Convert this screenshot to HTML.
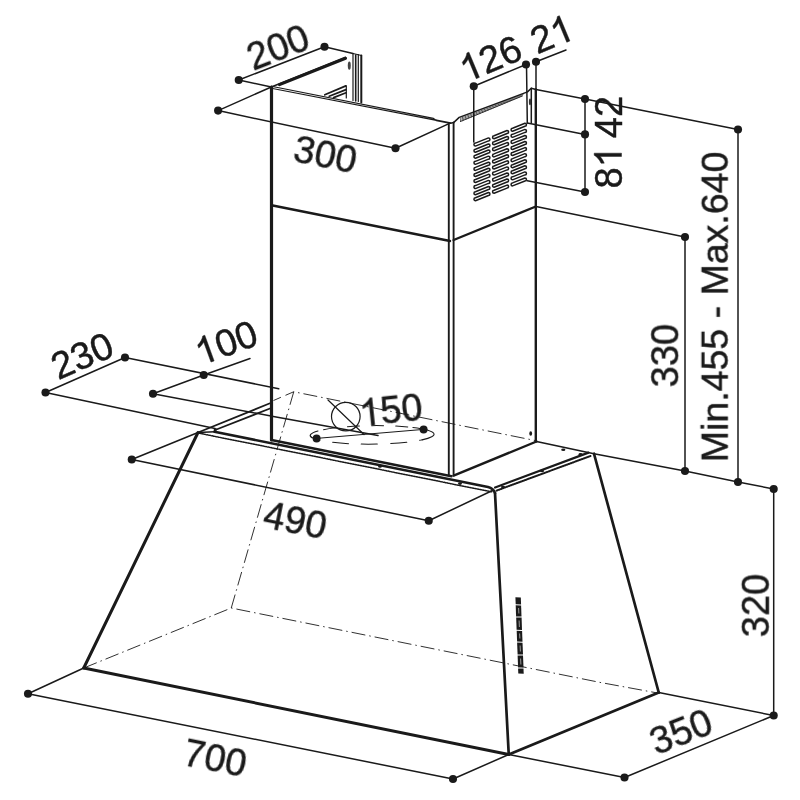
<!DOCTYPE html>
<html><head><meta charset="utf-8"><style>
html,body{margin:0;padding:0;background:#fff;}
body{width:800px;height:800px;overflow:hidden;}
svg{display:block;}
text{font-family:"Liberation Sans",sans-serif;font-size:38px;fill:#1a1a1a;stroke:#1a1a1a;stroke-width:0.45;}
.k{stroke:#1a1a1a;fill:none;stroke-linecap:round;stroke-linejoin:round;}
.t{stroke-width:1.5;}
.m{stroke-width:1.7;}
.b{stroke-width:2.4;}
.h{stroke-width:3.2;}
.dd{stroke-width:0.9;stroke-dasharray:14 4 1.5 4;stroke-linecap:butt;}
.da{stroke-width:0.9;stroke-dasharray:9 5;stroke-linecap:butt;}
.dot{fill:#1a1a1a;stroke:none;}
</style></head>
<body>
<svg width="800" height="800" viewBox="0 0 800 800">
<rect width="800" height="800" fill="#fff"/>

<!-- ===== hidden (dash-dot) lines ===== -->
<g class="k dd">
<path d="M83.75 668 L231.25 608 L600 682.4 L657.5 693"/>
<path d="M231.25 608 L293.75 391.75 L535 440.5"/>
</g>
<path class="k da" d="M293.75 391.75 L273.5 400.5"/>

<!-- ===== dimension lines (thin) ===== -->
<g class="k t">
<!-- 200 -->
<path d="M238.75 80 L324.5 46.75 L353 53.5"/>
<path d="M238.75 80 L271.3 87"/>
<!-- 300 -->
<path d="M218.1 110.6 L395.5 148.25"/>
<path d="M218.1 110.6 L271.3 87"/>
<path d="M395.5 148.25 L449 123.6"/>
<!-- 126 / 21 -->
<path d="M473.75 86.2 L526 64.5"/>
<path d="M536 61.75 L566 50"/>
<path d="M473.75 86.2 L473.75 142"/>
<path d="M526.5 64.5 L527.3 123"/>
<path d="M536 61.75 L536 90"/>
<!-- 42 / 81 -->
<path d="M585 99 L585 192"/>
<path d="M536 89.5 L585 99 L738 129.5"/>
<path d="M527.3 123 L585 134.4"/>
<path d="M527.3 180.8 L585 192"/>
<!-- 330 -->
<path d="M536 206.5 L685 237 L685 471"/>
<!-- min-max -->
<path d="M738 129.5 L738 482"/>
<!-- right line through dots -->
<path d="M594 453.75 L685 471 L738 482 L773.7 489"/>
<!-- 320 -->
<path d="M773.7 489 L773.7 715.5"/>
<path d="M658.75 692.5 L773.7 715.5"/>
<!-- 350 -->
<path d="M773.7 715.5 L624.5 777.5 L508.75 754.5"/>
<!-- 700 -->
<path d="M28 693.75 L453 779 L508.75 754.5"/>
<path d="M28 693.75 L83.75 668"/>
<!-- 490 -->
<path d="M131.75 459.5 L428.75 520.75 L493.5 490"/>
<path d="M131.75 459.5 L198 432.5"/>
<!-- 230 -->
<path d="M45.5 392.5 L125 357.5 L278.75 388.75"/>
<path d="M45.5 392.5 L215 428.5"/>
<!-- 100 -->
<path d="M153 393.75 L203.75 375 L250 358.5"/>
<path d="M153 393.75 L271 416"/>
<path d="M272 416.2 L378 435.5"/>
</g>

<!-- ===== duct circle ===== -->
<g class="k" stroke-width="1">
<path d="M316.6 438.4 L423.6 429.4"/>
</g>
<g transform="rotate(-0.6 372.4 434.9)">
<path class="k" stroke-width="1" stroke-dasharray="16 13" stroke-dashoffset="-24" stroke-linecap="butt" d="M310.4 434.9 A62 9.3 0 0 0 422 440.4"/>
<path class="k" stroke-width="1" stroke-dasharray="12 12" stroke-dashoffset="-30" stroke-linecap="butt" d="M318 430.4 A62 9.3 0 0 1 420 429"/>
<path class="k" stroke-width="1.1" d="M318 430.4 A62 9.3 0 0 0 312 437.2"/>
<path class="k" stroke-width="1.1" d="M413 427.9 A62 9.3 0 0 1 422 440.4"/>
</g>
<circle class="k" stroke-width="1.2" cx="345.8" cy="416.6" r="14.3"/>
<path class="k" stroke-width="1.2" d="M328 400 L364 434.5"/>

<!-- ===== chimney ===== -->
<!-- back panel -->
<g class="k" stroke-width="1.2">
<path d="M353 53.5 L353 100.5"/>
<path d="M358.3 54.5 L358.3 101.5"/>
<path stroke-width="2" d="M361.3 55.5 L361.3 102.5"/>
<path d="M353 53.5 L361.5 55.5"/>
<path stroke-width="1.7" d="M324.8 94.8 L345.8 85.9 M329.2 96.3 L346 89.6 M333.6 97.6 L346 92.8"/><path d="M346.3 85.8 L346.3 98"/>
</g>
<path class="k" stroke="#888" stroke-width="1.6" d="M355.7 55 L355.7 101"/>
<ellipse cx="349.3" cy="65.6" rx="1.5" ry="4.2" fill="#444" stroke="none"/>
<!-- top-left inner edge -->
<path class="k" stroke-width="3.1" d="M279.5 84.6 L345.5 58.4"/>
<path class="k t" d="M271.3 87 L345.5 57.3"/>
<!-- top front edge -->
<path class="k" stroke-width="1.15" d="M271.3 86.2 L433.5 118.4 L436.5 120.4 M271.3 88.3 L436.5 120.4"/><path class="k m" d="M436.5 120.4 L450.5 123.2"/>
<!-- top right edge with hatch -->
<path class="k t" d="M450.5 123.2 L453.6 122.6 L459.2 117.4 L527.5 91.9 L531.3 88.2 L536 89.5"/>
<path class="k" stroke="#444" stroke-width="0.75" stroke-linecap="butt" d="M460.5 121.5 L460.9 117.7 M462.1 120.9 L462.5 117.1 M463.6 120.2 L464.1 116.5 M465.1 119.6 L465.7 115.9 M466.7 119.0 L467.3 115.3 M468.2 118.3 L468.9 114.7 M469.8 117.7 L470.4 114.1 M471.4 117.0 L472.0 113.5 M472.9 116.4 L473.6 112.9 M474.4 115.8 L475.2 112.3 M476.0 115.1 L476.8 111.7 M477.6 114.5 L478.4 111.1 M479.1 113.8 L480.0 110.5 M480.6 113.2 L481.6 109.9 M482.2 112.6 L483.2 109.3 M483.8 111.9 L484.8 108.7 M485.3 111.3 L486.4 108.1 M486.9 110.7 L488.0 107.5 M488.4 110.0 L489.6 106.9 M489.9 109.4 L491.1 106.3 M491.5 108.8 L492.7 105.7 M493.1 108.1 L494.3 105.1 M494.6 107.5 L495.9 104.5 M496.1 106.8 L497.5 103.9 M497.7 106.2 L499.1 103.3 M499.2 105.6 L500.7 102.7 M500.8 104.9 L502.3 102.1 M502.4 104.3 L503.9 101.5 M503.9 103.7 L505.5 100.9 M505.4 103.0 L507.1 100.3 M507.0 102.4 L508.7 99.7 M508.6 101.7 L510.3 99.1 M510.1 101.1 L511.9 98.5 M511.6 100.5 L513.4 97.9 M513.2 99.8 L515.0 97.3 M514.8 99.2 L516.6 96.7 M516.3 98.5 L518.2 96.1 M517.9 97.9 L519.8 95.5 M519.4 97.3 L521.4 94.9 M521.0 96.6 L523.0 94.3"/>
<path class="k" stroke-width="0.8" d="M460.5 121.5 L522.5 96"/>
<path class="k t" d="M531.3 88.2 L531.3 123"/>
<ellipse cx="530" cy="101.9" rx="1.1" ry="3.3" fill="#333" stroke="none"/>
<!-- edges -->
<path class="k h" d="M271.5 87 L271.5 440"/>
<path class="k" stroke-width="1.9" d="M448.8 123.4 L448.8 475.2"/>
<path class="k" stroke-width="1.9" d="M453.6 122.5 L453.6 475.6"/>
<path class="k b" d="M535.8 89.5 L535.8 441.5"/>
<!-- joints -->
<path class="k b" d="M271.5 205.3 L450 241"/>
<path class="k b" d="M453.6 240 L535.8 206.5"/>
<!-- bottom -->
<path class="k b" stroke-width="2.6" d="M271.5 440 L451.5 476.3"/>
<path class="k b" d="M453.6 475.6 L536.5 441.5"/>

<!-- vent slots -->
<g id="vents" class="k" stroke-width="1.50" fill="#fff"><path d="M475.45 143.12 L488.45 137.92 A1.50 1.50 0 0 1 488.45 140.92 L475.45 146.12 A1.50 1.50 0 0 1 475.45 143.12 Z"/><path d="M475.45 149.19 L488.45 143.99 A1.50 1.50 0 0 1 488.45 146.99 L475.45 152.19 A1.50 1.50 0 0 1 475.45 149.19 Z"/><path d="M475.45 155.26 L488.45 150.06 A1.50 1.50 0 0 1 488.45 153.06 L475.45 158.26 A1.50 1.50 0 0 1 475.45 155.26 Z"/><path d="M475.45 161.33 L488.45 156.13 A1.50 1.50 0 0 1 488.45 159.13 L475.45 164.33 A1.50 1.50 0 0 1 475.45 161.33 Z"/><path d="M475.45 167.40 L488.45 162.20 A1.50 1.50 0 0 1 488.45 165.20 L475.45 170.40 A1.50 1.50 0 0 1 475.45 167.40 Z"/><path d="M475.45 173.47 L488.45 168.27 A1.50 1.50 0 0 1 488.45 171.27 L475.45 176.47 A1.50 1.50 0 0 1 475.45 173.47 Z"/><path d="M475.45 179.54 L488.45 174.34 A1.50 1.50 0 0 1 488.45 177.34 L475.45 182.54 A1.50 1.50 0 0 1 475.45 179.54 Z"/><path d="M475.45 185.61 L488.45 180.41 A1.50 1.50 0 0 1 488.45 183.41 L475.45 188.61 A1.50 1.50 0 0 1 475.45 185.61 Z"/><path d="M475.45 191.68 L488.45 186.48 A1.50 1.50 0 0 1 488.45 189.48 L475.45 194.68 A1.50 1.50 0 0 1 475.45 191.68 Z"/><path d="M475.45 197.75 L488.45 192.55 A1.50 1.50 0 0 1 488.45 195.55 L475.45 200.75 A1.50 1.50 0 0 1 475.45 197.75 Z"/><path d="M494.05 135.68 L507.05 130.48 A1.50 1.50 0 0 1 507.05 133.48 L494.05 138.68 A1.50 1.50 0 0 1 494.05 135.68 Z"/><path d="M494.05 141.75 L507.05 136.55 A1.50 1.50 0 0 1 507.05 139.55 L494.05 144.75 A1.50 1.50 0 0 1 494.05 141.75 Z"/><path d="M494.05 147.82 L507.05 142.62 A1.50 1.50 0 0 1 507.05 145.62 L494.05 150.82 A1.50 1.50 0 0 1 494.05 147.82 Z"/><path d="M494.05 153.89 L507.05 148.69 A1.50 1.50 0 0 1 507.05 151.69 L494.05 156.89 A1.50 1.50 0 0 1 494.05 153.89 Z"/><path d="M494.05 159.96 L507.05 154.76 A1.50 1.50 0 0 1 507.05 157.76 L494.05 162.96 A1.50 1.50 0 0 1 494.05 159.96 Z"/><path d="M494.05 166.03 L507.05 160.83 A1.50 1.50 0 0 1 507.05 163.83 L494.05 169.03 A1.50 1.50 0 0 1 494.05 166.03 Z"/><path d="M494.05 172.10 L507.05 166.90 A1.50 1.50 0 0 1 507.05 169.90 L494.05 175.10 A1.50 1.50 0 0 1 494.05 172.10 Z"/><path d="M494.05 178.17 L507.05 172.97 A1.50 1.50 0 0 1 507.05 175.97 L494.05 181.17 A1.50 1.50 0 0 1 494.05 178.17 Z"/><path d="M494.05 184.24 L507.05 179.04 A1.50 1.50 0 0 1 507.05 182.04 L494.05 187.24 A1.50 1.50 0 0 1 494.05 184.24 Z"/><path d="M494.05 190.31 L507.05 185.11 A1.50 1.50 0 0 1 507.05 188.11 L494.05 193.31 A1.50 1.50 0 0 1 494.05 190.31 Z"/><path d="M512.55 128.28 L524.95 123.32 A1.50 1.50 0 0 1 524.95 126.32 L512.55 131.28 A1.50 1.50 0 0 1 512.55 128.28 Z"/><path d="M512.55 134.35 L524.95 129.39 A1.50 1.50 0 0 1 524.95 132.39 L512.55 137.35 A1.50 1.50 0 0 1 512.55 134.35 Z"/><path d="M512.55 140.42 L524.95 135.46 A1.50 1.50 0 0 1 524.95 138.46 L512.55 143.42 A1.50 1.50 0 0 1 512.55 140.42 Z"/><path d="M512.55 146.49 L524.95 141.53 A1.50 1.50 0 0 1 524.95 144.53 L512.55 149.49 A1.50 1.50 0 0 1 512.55 146.49 Z"/><path d="M512.55 152.56 L524.95 147.60 A1.50 1.50 0 0 1 524.95 150.60 L512.55 155.56 A1.50 1.50 0 0 1 512.55 152.56 Z"/><path d="M512.55 158.63 L524.95 153.67 A1.50 1.50 0 0 1 524.95 156.67 L512.55 161.63 A1.50 1.50 0 0 1 512.55 158.63 Z"/><path d="M512.55 164.70 L524.95 159.74 A1.50 1.50 0 0 1 524.95 162.74 L512.55 167.70 A1.50 1.50 0 0 1 512.55 164.70 Z"/><path d="M512.55 170.77 L524.95 165.81 A1.50 1.50 0 0 1 524.95 168.81 L512.55 173.77 A1.50 1.50 0 0 1 512.55 170.77 Z"/><path d="M512.55 176.84 L524.95 171.88 A1.50 1.50 0 0 1 524.95 174.88 L512.55 179.84 A1.50 1.50 0 0 1 512.55 176.84 Z"/><path d="M512.55 182.91 L524.95 177.95 A1.50 1.50 0 0 1 524.95 180.95 L512.55 185.91 A1.50 1.50 0 0 1 512.55 182.91 Z"/></g>

<!-- ===== hood ===== -->
<!-- top left edge -->
<path class="k m" d="M198 432.5 L270 403.3"/>
<path class="k m" d="M214.5 430.3 L270 408.5"/>
<!-- top front edge -->
<path class="k" stroke-width="2.6" d="M214.5 431.8 L488 487 Q493.5 488.5 495 493"/>
<path class="k" stroke="#444" stroke-width="1.5" stroke-dasharray="1.5 1.1" stroke-linecap="butt" d="M199.5 433.3 L491.9 491.9"/>
<path class="k t" d="M198 432.5 L214.5 431.8"/>
<!-- top back edge -->
<path class="k m" d="M536.5 441.5 L594 453.75"/>
<!-- top right edge -->
<path class="k" stroke-width="2.2" d="M495.1 487.5 L588.5 452.6"/>
<path class="k" stroke="#444" stroke-width="2" stroke-dasharray="1.1 1.1" stroke-linecap="butt" d="M496.6 490.6 L591 455.8"/>
<!-- outer edges -->
<path class="k" stroke-width="3" d="M198 432.5 L83.75 668"/>
<path class="k" stroke-width="2.9" d="M83.75 668 L508.75 754.5"/>
<path class="k" stroke-width="2.7" d="M495 493 L508.75 754.5"/>
<path class="k" stroke-width="2.8" d="M508.75 754.5 L658.75 692.5"/>
<path class="k" stroke-width="2.7" d="M594 453.75 L658.75 692.5"/>
<!-- holes -->
<g class="dot">
<ellipse cx="530.7" cy="433.5" rx="1.4" ry="2.2"/>
<ellipse cx="563.3" cy="449.7" rx="2.1" ry="1.3"/>
<ellipse cx="580.6" cy="454.4" rx="2.1" ry="1.3"/>
<ellipse cx="542" cy="470.9" rx="2" ry="1.3"/>
<ellipse cx="503" cy="487" rx="2" ry="1.3"/>
<ellipse cx="460" cy="483.6" rx="2" ry="1.3"/>
<ellipse cx="380" cy="466.5" rx="1.9" ry="1.2"/>
<ellipse cx="215.5" cy="429.5" rx="1.6" ry="1.2"/>
</g>
<!-- buttons -->
<g id="btn" fill="#1a1a1a" stroke="none"><path d="M515.4 597.2 L520.8 597.4 L521.1 604.4 L515.7 604.2 Z"/><path d="M515.7 605.2 L521.1 605.4 L521.5 616.6 L516.1 616.4 Z"/><path d="M516.2 617.4 L521.6 617.6 L522.0 630.0 L516.6 629.8 Z"/><path d="M516.7 630.8 L522.1 631.0 L522.5 641.8 L517.1 641.6 Z"/><path d="M517.1 642.6 L522.5 642.8 L523.0 654.6 L517.6 654.4 Z"/><path d="M517.6 655.4 L523.0 655.6 L523.5 667.6 L518.1 667.4 Z"/><path d="M518.1 668.4 L523.5 668.6 L523.7 673.8 L518.3 673.6 Z"/></g>
<g stroke="#999" stroke-width="1" fill="none">
<path d="M518.6 608 L518.9 613.5 M519.1 620.5 L519.4 627 M519.6 633.5 L519.9 638.5 M520.1 645.5 L520.4 651.5 M520.6 658.5 L520.9 664.5"/>
</g>

<!-- ===== dots ===== -->
<g class="dot">
<circle cx="238.75" cy="80" r="4.05"/><circle cx="324.5" cy="46.75" r="4.05"/>
<circle cx="218.1" cy="110.6" r="4.05"/><circle cx="395.5" cy="148.25" r="4.05"/>
<circle cx="473.75" cy="86.2" r="4.05"/><circle cx="526" cy="64.5" r="4.05"/><circle cx="536" cy="61.75" r="4.05"/>
<circle cx="585" cy="99" r="4.05"/><circle cx="585" cy="134.4" r="4.05"/><circle cx="585" cy="192" r="4.05"/>
<circle cx="738" cy="129.5" r="4.05"/><circle cx="685" cy="237" r="4.05"/>
<circle cx="685" cy="471" r="4.05"/><circle cx="738" cy="482" r="4.05"/><circle cx="773.7" cy="489" r="4.05"/>
<circle cx="773.7" cy="715.5" r="4.05"/><circle cx="624.5" cy="777.5" r="4.05"/><circle cx="453" cy="779" r="4.05"/>
<circle cx="28" cy="693.75" r="4.05"/><circle cx="131.75" cy="459.5" r="4.05"/><circle cx="428.75" cy="520.75" r="4.05"/>
<circle cx="45.5" cy="392.5" r="4.05"/><circle cx="125" cy="357.5" r="4.05"/>
<circle cx="153" cy="393.75" r="4.05"/><circle cx="203.75" cy="375" r="4.05"/>
<circle cx="316.6" cy="438.4" r="4"/><circle cx="423.6" cy="429.4" r="4"/>
</g>

<!-- ===== text ===== -->
<g opacity="0.999">
<g id="t200" transform="translate(282.7 59.4) rotate(-21.2)"><text x="-31.70">200</text></g>
<g id="t300" transform="translate(322.8 167.4) rotate(11.5)"><text x="-31.70">300</text></g>
<g id="t126" transform="translate(495.6 70.6) rotate(-22.6)"><path d="M763 0H583V1147Q518 1085 412.5 1023Q307 961 223 930V1104Q374 1175 487 1276Q600 1377 647 1472H763Z" transform="translate(-31.70 0) scale(0.018555 -0.018555)" fill="#1a1a1a" stroke="#1a1a1a" stroke-width="24"/><text x="-10.57">26</text></g>
<g id="t21" transform="translate(556.8 46.4) rotate(-22.6)"><text x="-21.13">2</text><path d="M763 0H583V1147Q518 1085 412.5 1023Q307 961 223 930V1104Q374 1175 487 1276Q600 1377 647 1472H763Z" transform="translate(0.00 0) scale(0.018555 -0.018555)" fill="#1a1a1a" stroke="#1a1a1a" stroke-width="24"/></g>
<g id="t42" transform="translate(621.7 117.0) rotate(-90)"><text x="-21.13">42</text></g>
<g id="t81" transform="translate(621.5 167.3) rotate(-90)"><text x="-21.13">8</text><path d="M763 0H583V1147Q518 1085 412.5 1023Q307 961 223 930V1104Q374 1175 487 1276Q600 1377 647 1472H763Z" transform="translate(0.00 0) scale(0.018555 -0.018555)" fill="#1a1a1a" stroke="#1a1a1a" stroke-width="24"/></g>
<g id="t330" transform="translate(678.2 355.6) rotate(-90)"><text x="-31.70">330</text></g>
<g id="t320" transform="translate(768.8 605.5) rotate(-90)"><text x="-31.70">320</text></g>
<g id="t350" transform="translate(685.9 744.0) rotate(-21.5)"><text x="-31.70">350</text></g>
<g id="t700" transform="translate(212.6 771.0) rotate(11.5)"><text x="-31.70">700</text></g>
<g id="t490" transform="translate(292.7 533.2) rotate(11.5)"><text x="-31.70">490</text></g>
<g id="t230" transform="translate(87.2 367.6) rotate(-23.5)"><text x="-31.70">230</text></g>
<g id="t100" transform="translate(230.6 354.9) rotate(-20)"><path d="M763 0H583V1147Q518 1085 412.5 1023Q307 961 223 930V1104Q374 1175 487 1276Q600 1377 647 1472H763Z" transform="translate(-31.70 0) scale(0.018555 -0.018555)" fill="#1a1a1a" stroke="#1a1a1a" stroke-width="24"/><text x="-10.57">00</text></g>
<g id="t150" transform="translate(392.2 423.0) rotate(-6)"><path d="M763 0H583V1147Q518 1085 412.5 1023Q307 961 223 930V1104Q374 1175 487 1276Q600 1377 647 1472H763Z" transform="translate(-31.70 0) scale(0.018555 -0.018555)" fill="#1a1a1a" stroke="#1a1a1a" stroke-width="24"/><text x="-10.57">50</text></g>
<text id="tmm" text-anchor="middle" style="font-size:37.5px" transform="translate(727.7 306.9) rotate(-90)">Min.455 - Max.640</text>
</g>
</svg>

</body></html>
